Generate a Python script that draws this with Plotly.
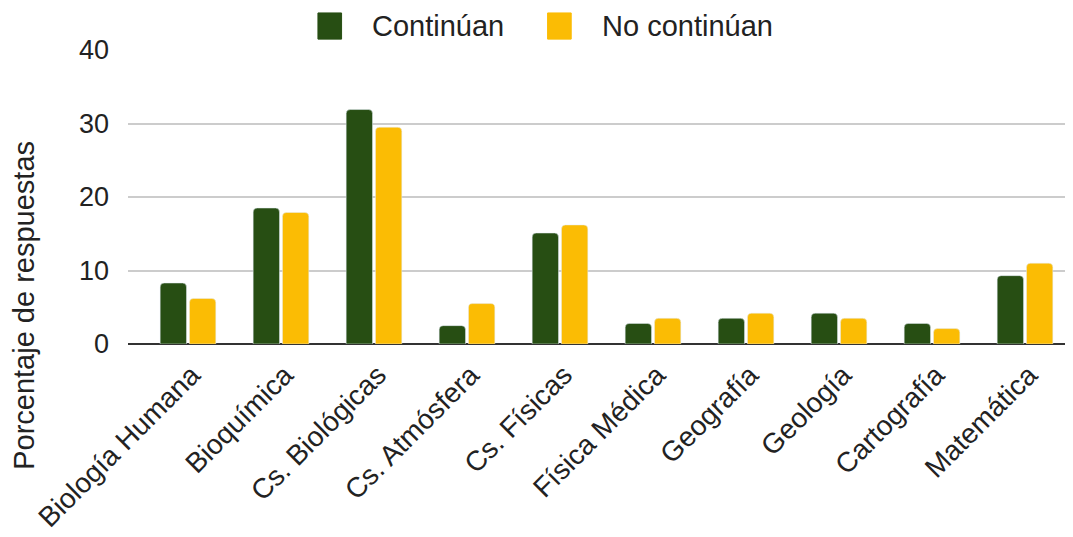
import plotly.graph_objects as go

categories = [
    "Biología Humana",
    "Bioquímica",
    "Cs. Biológicas",
    "Cs. Atmósfera",
    "Cs. Físicas",
    "Física Médica",
    "Geografía",
    "Geología",
    "Cartografía",
    "Matemática",
]
continuan = [8.3, 18.5, 31.9, 2.5, 15.1, 2.8, 3.5, 4.2, 2.8, 9.3]
no_continuan = [6.2, 17.9, 29.5, 5.5, 16.2, 3.5, 4.2, 3.5, 2.1, 11.0]
y_ticks = [0, 10, 20, 30, 40]

GREEN = "#274e13"
YELLOW = "#fbbc04"
FONT = "Liberation Sans, Arial, sans-serif"

fig = go.Figure()
fig.add_trace(go.Bar(x=categories, y=continuan, name="Continúan",
                     marker_color=GREEN, showlegend=False))
fig.add_trace(go.Bar(x=categories, y=no_continuan, name="No continúan",
                     marker_color=YELLOW, showlegend=False))

# hand-made legend (bigger swatches than plotly's own)
legend_items = [("Continúan", GREEN, 0.201), ("No continúan", YELLOW, 0.444)]
for label, color, x0 in legend_items:
    fig.add_shape(type="rect", xref="paper", yref="paper",
                  x0=x0, x1=x0 + 0.025, y0=1.037, y1=1.126,
                  fillcolor=color, line=dict(color=color, width=1))
    fig.add_annotation(text=label, xref="paper", yref="paper",
                       x=x0 + 0.055, y=1.082, xanchor="left", yanchor="middle",
                       showarrow=False, font=dict(size=29))

# y title sits lower than the plot centre in the original
fig.add_annotation(text="Porcentaje de respuestas", xref="paper", yref="paper",
                   x=-0.11, y=0.13, textangle=-90, showarrow=False,
                   xanchor="center", yanchor="middle", font=dict(size=29))

# page body adds an 8px offset, so the figure is 8px smaller
fig.update_layout(
    width=1065,
    height=529,
    margin=dict(l=120, r=0, t=42, b=193, autoexpand=False),
    paper_bgcolor="white",
    plot_bgcolor="white",
    font=dict(family=FONT, size=27, color="#222222"),
    barmode="group",
    bargap=0.37,
    bargroupgap=0.1,
    barcornerradius=4,
)

fig.update_xaxes(
    range=[-0.645, 9.516],
    tickangle=-45,
    showgrid=False,
    showline=False,
    ticks="",
    tickfont=dict(size=28),
    ticklabelstandoff=8,
    ticklabelshift=4,
)
fig.update_yaxes(
    range=[0, 40],
    tickvals=y_ticks,
    showgrid=True,
    gridcolor="#cccccc",
    gridwidth=2,
    zeroline=True,
    zerolinecolor="#333333",
    zerolinewidth=2,
    ticks="",
    ticklabelstandoff=18,
)

fig.write_html("out.html")
